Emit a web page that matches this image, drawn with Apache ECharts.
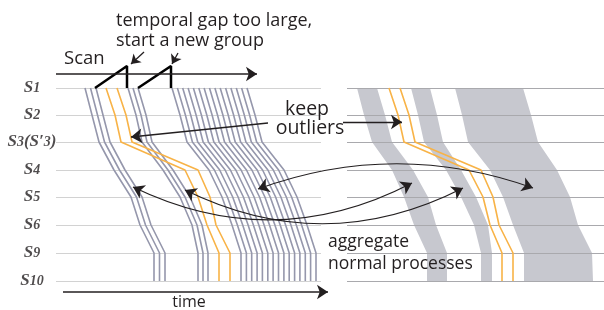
<!DOCTYPE html>
<html>
<head>
<meta charset="utf-8">
<script src="https://cdn.jsdelivr.net/npm/echarts@6/dist/echarts.min.js"></script>
<style>
html, body {margin: 0; padding: 0; background: #fff;}
#main {width: 604px; height: 310px;}
</style>
</head>
<body>
<div id="main"></div>
<script>
// stage rows (y in px of the drawing)
const rowLabels = ['S1', 'S2', 'S3(S′3)', 'S4', 'S5', 'S6', 'S9', 'S10'];
const rowY = [88, 115, 142, 170, 197, 225, 253, 281];

// left panel: leftmost strand of each group, x at every row
const group1 = [85, 92, 99, 114, 131, 140, 154, 154];
const group2 = [128, 136, 142, 163, 180, 192, 198, 198];
const group3 = [172, 180, 187, 209, 222, 232, 241, 241];
// strand offsets inside a group
const group1Lanes = [0, 5.5, 11];
const group2Lanes = [0, 5, 10];
const group3Lanes = [0, 5.4, 10.7, 16.1, 21.4, 26.8, 32.1, 37.5, 42.9, 48.2, 53.6, 58.9, 64.3, 69.6, 75];
// outliers (orange)
const outlier1 = [106, 115, 121, 185, 198, 207, 219, 219];
const outlier2 = [117, 126, 132, 198, 210, 216, 230, 230];

// right panel: aggregated bands (left edge / right edge)
const band1L = [357, 364, 372, 392, 404, 414, 427, 427];
const band1R = [377, 385, 392, 413, 428, 436, 447, 447];
const band2L = [411, 418, 424, 446, 461, 474, 481, 481];
const band2R = [430, 437, 443, 461, 476, 488, 492, 492];
const band3L = [455, 462, 468, 490, 503, 513, 524, 524];
const band3R = [523, 531, 538, 557, 570, 578, 592, 593];
const outlier1R = [389, 398, 404, 469, 483, 490, 502, 502];
const outlier2R = [400, 409, 415, 481, 493, 499, 513, 513];

const leftSpan = [56, 321];
const rightSpan = [347, 604];

const grayLine = '#9597ac';
const orange = '#f8b347';
const ink = '#231f20';

const myChart = echarts.init(document.getElementById('main'), null, {renderer: 'canvas'});

function strand(xs, off, color, z) {
    return {
        type: 'line', silent: true, symbol: 'none', z: z, animation: false,
        data: xs.map(function (x, i) { return [x + off, rowY[i]]; }),
        lineStyle: {color: color, width: 1.6}
    };
}

const series = [];

// row guides
series.push({
    type: 'lines', coordinateSystem: 'cartesian2d', silent: true, z: 1, animation: false,
    data: rowY.map(function (y) { return {coords: [[leftSpan[0], y], [leftSpan[1], y]]}; }),
    lineStyle: {color: '#d2d2d2', width: 1.2, opacity: 1}
});
series.push({
    type: 'lines', coordinateSystem: 'cartesian2d', silent: true, z: 4, animation: false,
    data: rowY.map(function (y) { return {coords: [[rightSpan[0], y], [rightSpan[1], y]]}; }),
    lineStyle: {color: '#a9a9ad', width: 1.1, opacity: 1}
});

// left panel strands
group1Lanes.forEach(function (o) { series.push(strand(group1, o, grayLine, 3)); });
group2Lanes.forEach(function (o) { series.push(strand(group2, o, grayLine, 3)); });
group3Lanes.forEach(function (o) { series.push(strand(group3, o, grayLine, 3)); });
series.push(strand(outlier1, 0, orange, 3));
series.push(strand(outlier2, 0, orange, 3));

// right panel bands
const bands = [[band1L, band1R], [band2L, band2R], [band3L, band3R]];
series.push({
    type: 'custom', silent: true, z: 2, animation: false, clip: false,
    data: [[0, 0], [1, 0], [2, 0]],
    renderItem: function (params, api) {
        const b = bands[params.dataIndex];
        const pts = [];
        b[0].forEach(function (x, i) { pts.push(api.coord([x, rowY[i]])); });
        for (let i = rowY.length - 1; i >= 0; i--) pts.push(api.coord([b[1][i], rowY[i]]));
        return {type: 'polygon', shape: {points: pts}, style: {fill: '#c7c8cf'}};
    }
});
series.push(strand(outlier1R, 0, orange, 5));
series.push(strand(outlier2R, 0, orange, 5));

// scan sawtooth
series.push({
    type: 'line', silent: true, symbol: 'none', z: 6, animation: false,
    data: [[95, 88], [127, 66], [127, 88]], lineStyle: {color: '#000', width: 2.5}
});
series.push({
    type: 'line', silent: true, symbol: 'none', z: 6, animation: false,
    data: [[138, 88], [171, 66], [171, 88]], lineStyle: {color: '#000', width: 2.5}
});

// straight arrows
series.push({
    type: 'lines', coordinateSystem: 'cartesian2d', silent: true, z: 7, animation: false,
    symbol: ['none', 'arrow'], symbolSize: 11,
    lineStyle: {color: ink, width: 1.3, opacity: 1},
    data: [
        {coords: [[56, 74], [257, 74]], lineStyle: {width: 1.6}},
        {coords: [[63, 292], [328, 292]], lineStyle: {width: 1.6}},
        {coords: [[268, 123], [131, 137]]},
        {coords: [[343, 122], [402, 122]]},
        {coords: [[144, 52], [131, 64]], symbolSize: 9},
        {coords: [[178, 53], [172, 64]], symbolSize: 9}
    ]
});
// curved two-way arrows
series.push({
    type: 'lines', coordinateSystem: 'cartesian2d', silent: true, z: 7, animation: false,
    symbol: ['arrow', 'arrow'], symbolSize: 11,
    lineStyle: {color: ink, width: 1.2, opacity: 1},
    data: [
        {coords: [[258, 189], [533, 188]], lineStyle: {curveness: 0.18}},
        {coords: [[133, 187], [412, 183]], lineStyle: {curveness: -0.25}},
        {coords: [[185, 190], [463, 188]], lineStyle: {curveness: -0.25}}
    ]
});

// row labels: letters and brackets larger, digits smaller
const labelFont = {fontFamily: 'Liberation Serif', fontStyle: 'italic', fontWeight: 'bold', color: ink};
series.push({
    type: 'scatter', silent: true, symbolSize: 0, z: 8, animation: false,
    data: rowY.map(function (y, i) { return {value: [32, y], name: rowLabels[i]}; }),
    label: {
        show: true, position: 'inside',
        formatter: function (p) {
            return p.name.split('').map(function (c) {
                return (/\d/.test(c) ? '{n|' : '{s|') + c + '}';
            }).join('');
        },
        rich: {
            s: Object.assign({fontSize: 17}, labelFont),
            n: Object.assign({fontSize: 14}, labelFont)
        }
    }
});

const font = '"Open Sans", sans-serif';
function txt(x, y, s, size, align) {
    return {
        type: 'text', x: x, y: y, silent: true, z: 10,
        style: {text: s, fill: ink, font: size + 'px ' + font, textAlign: align || 'left', textVerticalAlign: 'middle'}
    };
}

myChart.setOption({
    animation: false,
    grid: {left: 0, right: 0, top: 0, bottom: 0},
    xAxis: {type: 'value', min: 0, max: 604, show: false},
    yAxis: {type: 'value', min: 0, max: 310, inverse: true, show: false},
    series: series,
    graphic: [
        txt(116, 21, 'temporal gap too large,', 18),
        txt(116, 41, 'start a new group', 18),
        txt(64, 59, 'Scan', 18.5),
        txt(307, 109, 'keep', 19.5, 'center'),
        txt(310, 128, 'outliers', 19.5, 'center'),
        txt(328, 242, 'aggregate', 17.5),
        txt(328, 264, 'normal processes', 17.5),
        txt(189, 302, 'time', 16, 'center')
    ]
});
</script>
</body>
</html>
